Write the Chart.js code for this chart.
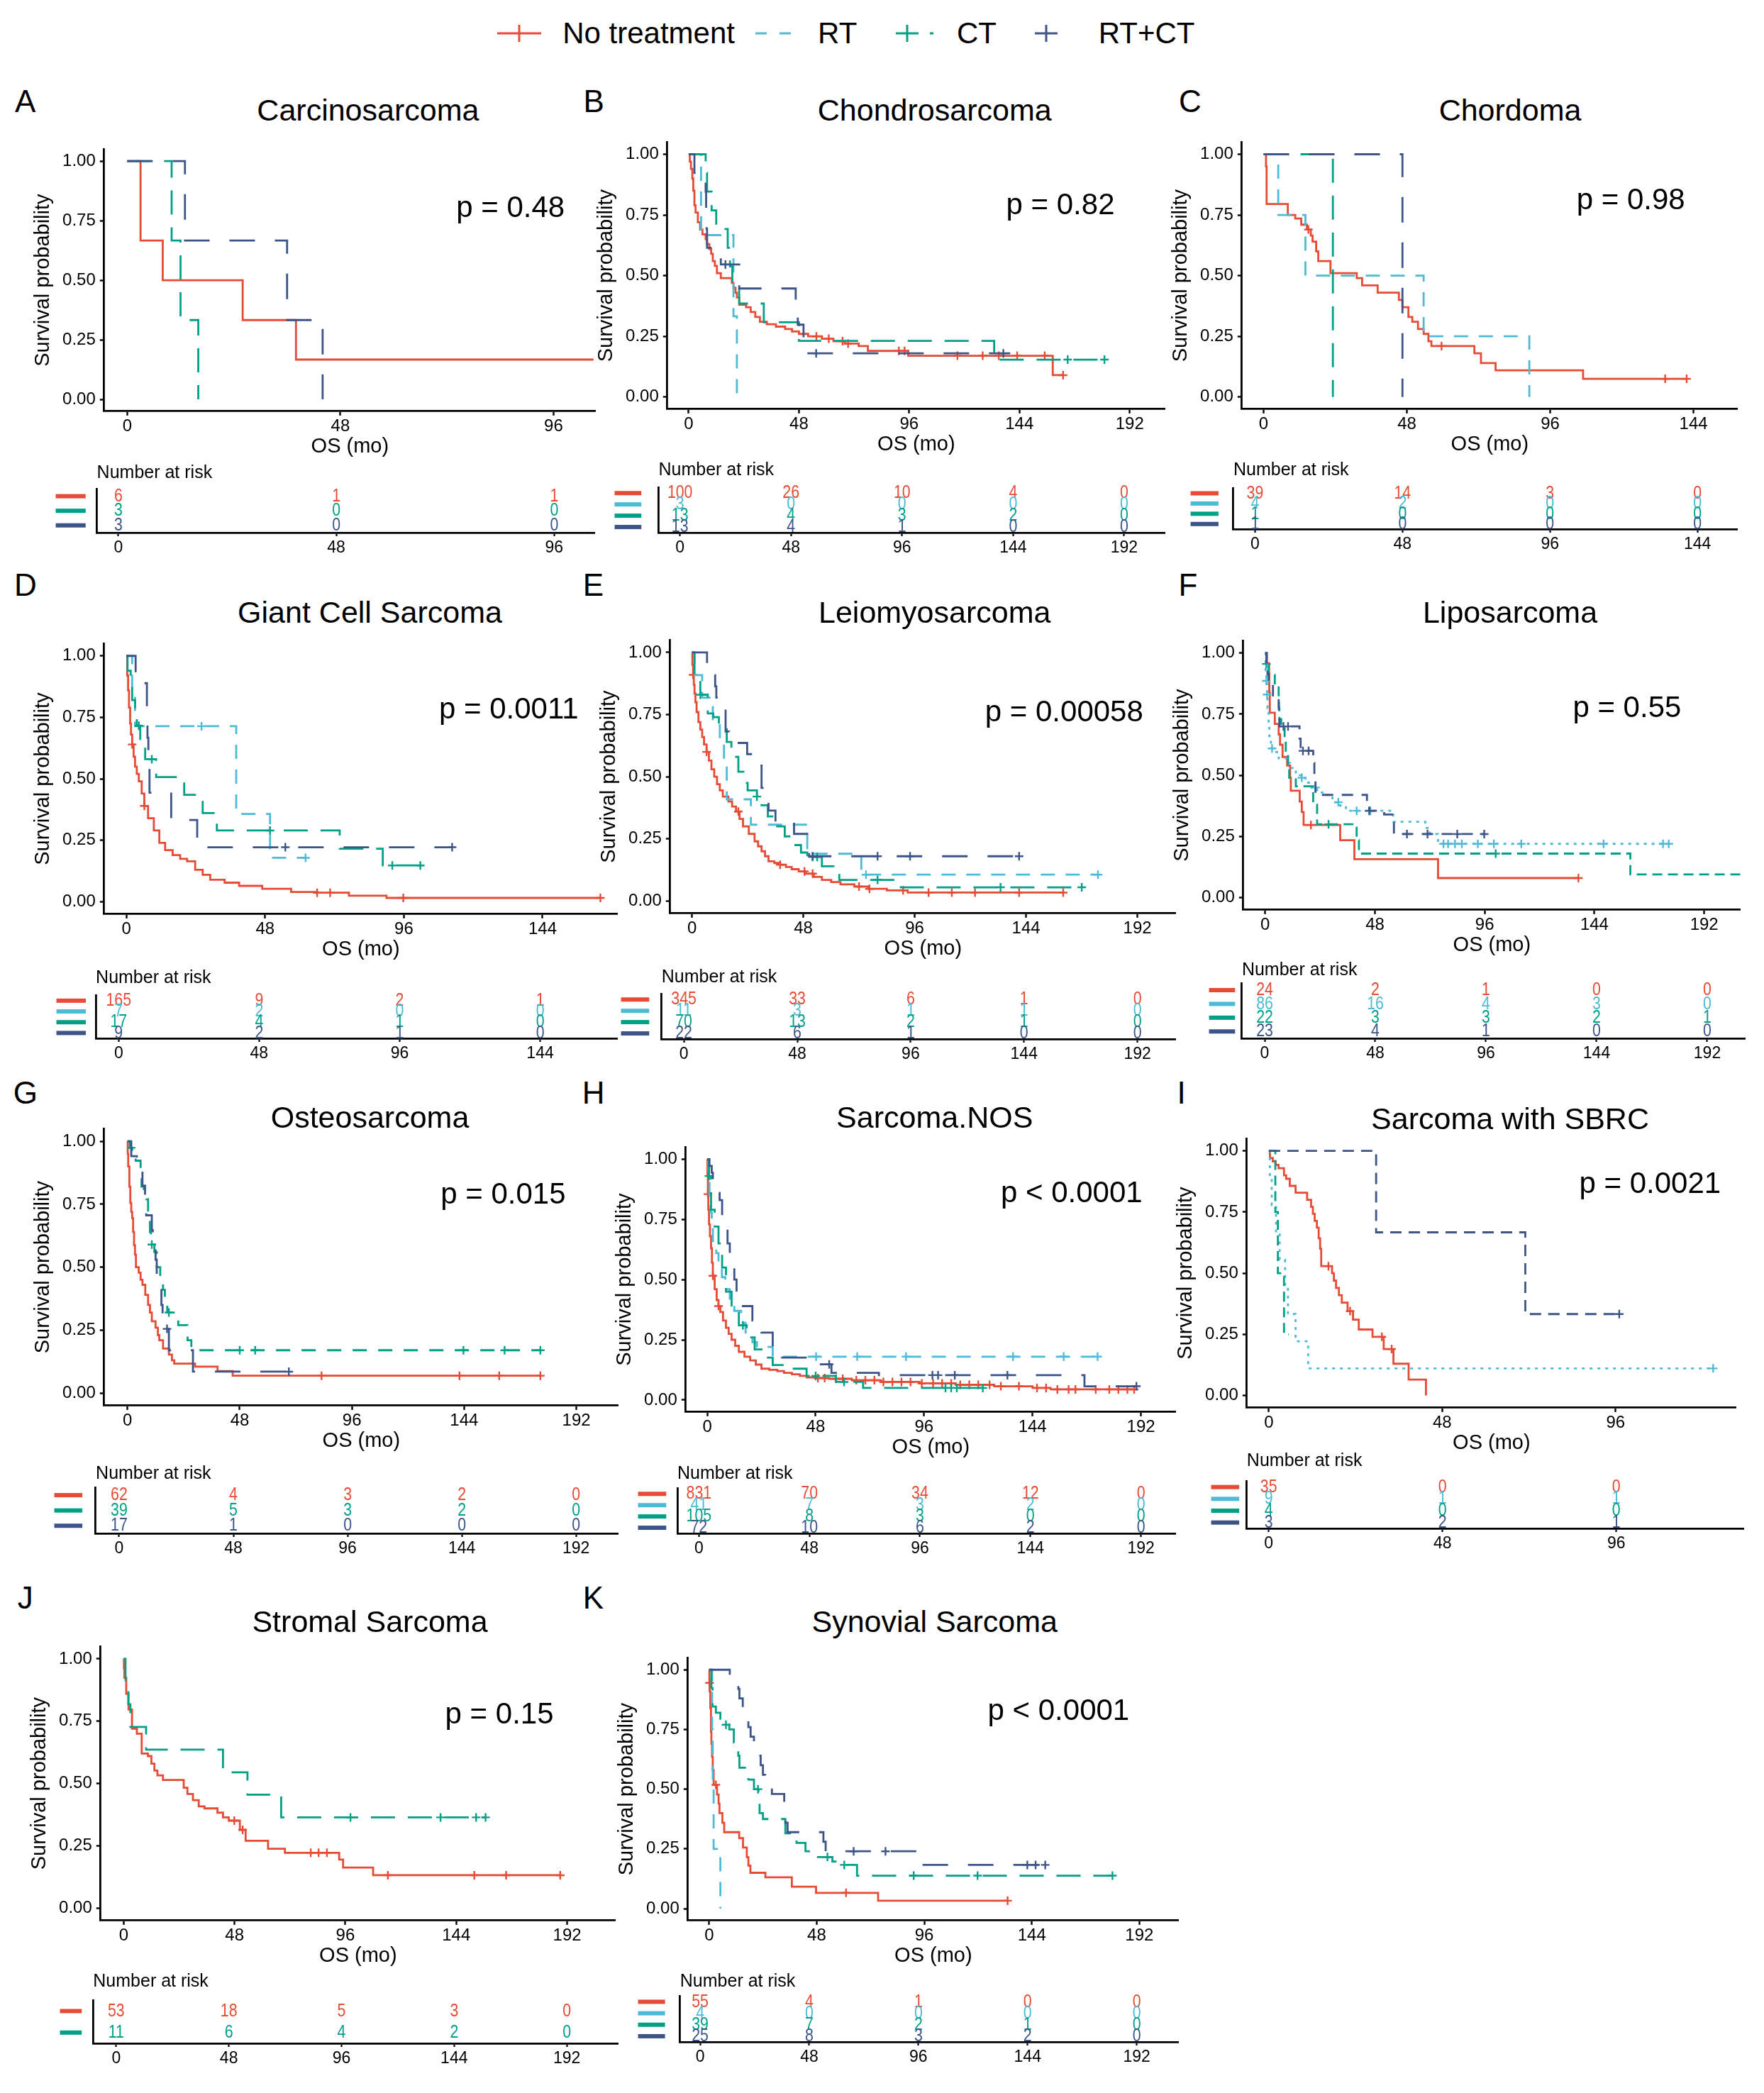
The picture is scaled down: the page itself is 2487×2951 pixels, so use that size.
<!DOCTYPE html>
<html>
<head>
<meta charset="utf-8">
<title>Overall survival by treatment and histology</title>
<script src="https://cdn.jsdelivr.net/npm/chart.js@4.4.1/dist/chart.umd.min.js"></script>
<style>
  html, body { margin: 0; padding: 0; background: #fff; }
  #page { position: relative; width: 2487px; height: 2951px; overflow: hidden; background: #fff;
          font-family: "Liberation Sans", Arial, sans-serif; color: #000; }
  #page canvas { position: absolute; }
  .txt { position: absolute; white-space: nowrap; line-height: 1; }
</style>
</head>
<body>
<div id="page"></div>
<script>
// ---- shared tick labels ----
const yTicks = [0, 0.25, 0.5, 0.75, 1];
const ticks96 = [0, 48, 96];
const ticks144 = [0, 48, 96, 144];
const ticks192 = [0, 48, 96, 144, 192];

// ---- curves: [months, survival]; censor marks: months ----
// A Carcinosarcoma
const A_none = [[0,1],[3,0.667],[8,0.5],[26,0.333],[38,0.167],[105,0.167]];
const A_ct = [[0,1],[10,0.667],[12,0.333],[16,0]];
const A_rtct = [[0,1],[13,0.667],[36,0.333],[44,0]];
const A_risk_none = [6,1,1], A_risk_ct = [3,0,0], A_risk_rtct = [3,0,0];

// B Chondrosarcoma
const B_none = [[0,1],[0.5,0.97],[1,0.94],[1.6,0.9],[2,0.85],[2.5,0.79],[3,0.76],[4,0.72],[5,0.69],[6,0.67],[7.4,0.65],[8,0.63],[9,0.61],[9.8,0.59],[10.5,0.56],[11.4,0.54],[12.3,0.51],[14,0.49],[18.8,0.47],[19.5,0.45],[20.4,0.43],[21,0.41],[22,0.38],[25,0.37],[27,0.35],[29,0.33],[31,0.31],[34,0.3],[38,0.29],[42,0.28],[45,0.27],[48,0.26],[52,0.25],[58,0.24],[63,0.23],[68,0.22],[74,0.21],[78,0.19],[95.6,0.17],[158.5,0.09],[163,0.09]];
const B_none_cens = [55.6,61,67,69.4,91.5,94,117,128,135,143,155,163];
const B_rt = [[0,1],[5.4,0.667],[19.5,0.333],[21,0]];
const B_ct = [[0,1],[7.4,0.923],[8,0.846],[10,0.769],[12,0.692],[17,0.615],[18,0.538],[19,0.462],[22,0.385],[32.7,0.308],[48,0.231],[133,0.154],[181,0.154]];
const B_ct_cens = [165,181];
const B_rtct = [[0,1],[2.5,0.923],[7.4,0.846],[7.6,0.769],[7.8,0.692],[8,0.615],[10,0.577],[14,0.546],[22,0.447],[46.6,0.373],[47.5,0.298],[50,0.18],[140,0.18]];
const B_rtct_cens = [16,55.5,137];
const B_risk_none = [100,26,10,4,0], B_risk_rt = [3,0,0,0,0], B_risk_ct = [13,4,3,2,0], B_risk_rtct = [13,4,1,0,0];

// C Chordoma
const C_none = [[0,1],[0.8,0.95],[1,0.795],[8.1,0.75],[10.6,0.735],[12.6,0.71],[14.5,0.69],[15.8,0.665],[16.4,0.64],[17.6,0.6],[18.3,0.56],[22.4,0.51],[31.2,0.49],[33,0.46],[38.2,0.43],[45.3,0.4],[46.5,0.37],[48.5,0.33],[49.8,0.31],[51.7,0.28],[53.6,0.26],[55.2,0.23],[56.2,0.21],[70.6,0.18],[72.8,0.14],[77.7,0.11],[107,0.075],[141.7,0.075]];
const C_none_cens = [15,59.6,134.5,141.7];
const C_rt = [[0,1],[4.9,0.75],[14,0.5],[53.6,0.25],[89,0]];
const C_ct = [[0,1],[23.2,0]];
const C_rtct = [[0,1],[46.5,0]];
const C_risk_none = [39,14,3,0], C_risk_rt = [4,2,0,0], C_risk_ct = [1,0,0,0], C_risk_rtct = [1,0,0,0];

// D Giant Cell Sarcoma
const D_none = [[0,1],[0.3,0.92],[0.6,0.86],[0.9,0.79],[1.3,0.725],[1.6,0.68],[2,0.64],[2.5,0.59],[3,0.55],[3.6,0.52],[4.3,0.49],[5.3,0.44],[6.2,0.39],[7.5,0.34],[9.5,0.29],[11.4,0.24],[13.4,0.21],[16,0.19],[18.6,0.175],[21,0.165],[23.8,0.13],[26.4,0.11],[29,0.09],[34,0.078],[39,0.065],[47,0.053],[57,0.04],[66,0.037],[77,0.025],[90,0.016],[164,0.016]];
const D_none_cens = [2,6.2,66,70.5,95.8,164];
const D_rt = [[0,1],[2,0.857],[3,0.714],[38,0.357],[49.7,0.179],[62,0.179]];
const D_rt_cens = [26,62];
const D_ct = [[0,1],[0.4,0.94],[1.5,0.88],[2,0.82],[3,0.76],[3.6,0.716],[4.8,0.65],[6.5,0.58],[10.3,0.507],[20,0.435],[26.4,0.361],[31.3,0.29],[73.8,0.216],[88.7,0.148],[101.7,0.148]];
const D_ct_cens = [4.3,8.8,49.7,92,101.7];
const D_rtct = [[0,1],[3.2,0.889],[7.1,0.778],[7.3,0.667],[7.6,0.556],[8,0.444],[15.5,0.333],[24.5,0.222],[112.7,0.222]];
const D_rtct_cens = [55,112.7];
const D_risk_none = [165,9,2,1], D_risk_rt = [7,2,0,0], D_risk_ct = [17,4,1,0], D_risk_rtct = [9,2,1,0];

// E Leiomyosarcoma
const E_none = [[0,1],[0.2,0.95],[0.5,0.91],[0.8,0.87],[1.1,0.835],[1.5,0.8],[2,0.76],[2.8,0.72],[3.6,0.69],[4.4,0.66],[5.2,0.63],[6.3,0.6],[7.3,0.565],[8.4,0.53],[9.6,0.5],[10.8,0.47],[12,0.445],[13.3,0.42],[15.7,0.4],[17.3,0.38],[19,0.36],[20.5,0.33],[22,0.3],[24.5,0.27],[27,0.24],[28.5,0.22],[30,0.2],[31.5,0.18],[33,0.16],[35.5,0.153],[38,0.146],[40.5,0.137],[43,0.128],[46,0.119],[49,0.11],[52.5,0.097],[56,0.085],[60,0.076],[64,0.067],[70,0.058],[76,0.049],[84,0.043],[93,0.034],[160,0.034]];
const E_none_cens = [0.5,6.3,20,38,48.5,52,72,76.5,91,102,112,122,141,160];
const E_rt = [[0,1],[1.1,0.909],[4.4,0.818],[9,0.727],[12,0.636],[13.8,0.545],[15,0.409],[25.4,0.307],[49.7,0.19],[73,0.106],[175,0.106]];
const E_rt_cens = [75,175];
const E_ct = [[0,1],[1.1,0.91],[3.6,0.83],[6.8,0.755],[9.2,0.74],[11.6,0.7],[15,0.64],[17,0.58],[20,0.52],[22.2,0.475],[24,0.445],[28,0.42],[30,0.385],[32.7,0.34],[36,0.3],[40,0.26],[43,0.225],[47,0.195],[49.7,0.177],[56,0.14],[61,0.116],[63.5,0.085],[90,0.055],[168,0.055]];
const E_ct_cens = [3.6,28,52,54,80,133,168];
const E_rtct = [[0,1],[6.5,0.955],[7,0.909],[10,0.864],[10.5,0.818],[14,0.773],[14.5,0.682],[16,0.636],[23.8,0.591],[27,0.545],[30,0.455],[31,0.409],[33,0.364],[36,0.32],[44,0.27],[49.7,0.225],[50.5,0.18],[141,0.18]];
const E_rtct_cens = [52,80,94,141];
const E_risk_none = [345,33,6,1,0], E_risk_rt = [11,3,1,1,0], E_risk_ct = [70,13,2,1,0], E_risk_rtct = [22,6,1,0,0];

// F Liposarcoma
const F_none = [[0,1],[0.8,0.958],[1.7,0.917],[1.8,0.84],[2,0.756],[4.2,0.71],[5.9,0.667],[6.5,0.625],[7.6,0.575],[9.6,0.54],[10.9,0.49],[11.2,0.437],[15.1,0.393],[16,0.35],[16.8,0.297],[32.8,0.235],[39,0.157],[75.6,0.08],[137,0.08]];
const F_none_cens = [20,137];
const F_rt = [[0,1],[0.2,0.93],[0.5,0.886],[0.8,0.83],[1,0.775],[1.5,0.71],[1.8,0.66],[2.5,0.61],[4.2,0.595],[5.9,0.57],[9.2,0.55],[10.9,0.53],[13.4,0.5],[15.9,0.49],[17.6,0.47],[20.2,0.45],[22.7,0.43],[26,0.42],[29.4,0.39],[32.8,0.376],[35.3,0.355],[56,0.31],[70,0.285],[72,0.26],[75.6,0.22],[176.5,0.22]];
const F_rt_cens = [0.5,0.8,3,16,22,32,40,46,78,80,83,86,93,100,112,148,174,176.5];
const F_ct = [[0,1],[0.5,0.955],[1.5,0.91],[4.2,0.87],[5.9,0.82],[6,0.77],[6.2,0.73],[7,0.7],[8.5,0.65],[9,0.6],[10,0.545],[10.5,0.49],[13.4,0.455],[21,0.38],[22.7,0.3],[40,0.235],[41,0.18],[159.7,0.095],[208.4,0.095]];
const F_ct_cens = [0.5,27.7,100.8];
const F_rtct = [[0,1],[0.5,0.957],[1,0.913],[1.5,0.87],[3.4,0.826],[5.9,0.78],[6,0.74],[6.2,0.7],[15,0.65],[15.5,0.6],[21,0.55],[21.5,0.49],[22,0.42],[44.5,0.38],[45.5,0.355],[52,0.34],[56.3,0.26],[95.8,0.26]];
const F_rtct_cens = [8,10,16.5,19,45.5,62,71,84,95.8];
const F_risk_none = [24,2,1,0,0], F_risk_rt = [86,16,4,3,0], F_risk_ct = [22,3,3,2,1], F_risk_rtct = [23,4,1,0,0];

// G Osteosarcoma
const G_none = [[0,1],[0.1,0.95],[0.3,0.9],[0.8,0.82],[1.2,0.755],[1.6,0.72],[2,0.695],[2.4,0.64],[2.8,0.587],[3.2,0.55],[3.6,0.5],[4.8,0.478],[5.6,0.45],[6.4,0.43],[7.6,0.39],[8.8,0.35],[9.6,0.32],[10.4,0.285],[12,0.26],[13,0.23],[13.6,0.21],[15.2,0.177],[17.7,0.153],[19,0.13],[20,0.117],[28.9,0.105],[38.5,0.087],[45,0.069],[176.6,0.069]];
const G_none_cens = [83,142,159,176.6];
const G_ct = [[0,1],[1,0.974],[2,0.949],[3.5,0.923],[5.6,0.85],[6,0.82],[7,0.795],[8,0.77],[8.8,0.69],[9.6,0.64],[10,0.59],[11.5,0.56],[12.5,0.5],[14,0.45],[15.2,0.41],[16,0.37],[17,0.32],[21.7,0.27],[25.7,0.21],[27.3,0.17],[176.6,0.17]];
const G_ct_cens = [1.6,10.4,17.7,48,54.6,143.7,161.3,176.6];
const G_rtct = [[0,1],[1.6,0.941],[4,0.882],[6.4,0.824],[7.5,0.765],[8,0.706],[10.4,0.647],[10.8,0.588],[12,0.53],[12.5,0.47],[13.6,0.41],[14.5,0.35],[15,0.31],[16,0.255],[17.7,0.17],[28,0.085],[69,0.085]];
const G_rtct_cens = [16.9,69];
const G_risk_none = [62,4,3,2,0], G_risk_ct = [39,5,3,2,0], G_risk_rtct = [17,1,0,0,0];

// H Sarcoma.NOS
const H_none = [[0,1],[0.1,0.93],[0.3,0.855],[0.5,0.79],[0.8,0.73],[1.2,0.68],[1.7,0.63],[2.1,0.57],[2.5,0.516],[3.3,0.46],[4.2,0.415],[5,0.39],[5.8,0.365],[7,0.33],[8.3,0.3],[9.5,0.275],[10.8,0.25],[12.4,0.225],[14,0.2],[16.5,0.18],[19,0.164],[21.5,0.147],[24,0.13],[27.5,0.125],[31,0.12],[34,0.113],[37.5,0.107],[41,0.1],[44,0.094],[49,0.091],[54,0.088],[64,0.082],[77,0.075],[94,0.069],[110,0.063],[127,0.057],[144,0.05],[152,0.044],[189,0.044]];
const H_none_cens = [0.3,2.5,5,49,52,57,60,66,70,74,78,82,86,90,95,100,104,108,112,116,120,125,130,138,146,150,155,160,163,172,178,182,186,189];
const H_rt = [[0,1],[0.5,0.93],[1,0.85],[1.5,0.78],[2,0.71],[2.5,0.66],[4,0.61],[5,0.56],[6.5,0.51],[8,0.46],[10,0.41],[12,0.37],[15,0.32],[17,0.27],[20,0.24],[22,0.22],[29,0.18],[172.8,0.18]];
const H_rt_cens = [48.2,66.4,88,135.4,157.8,172.8];
const H_ct = [[0,1],[0.8,0.93],[1.7,0.79],[3.3,0.72],[5,0.65],[6.6,0.55],[8.3,0.45],[10.8,0.38],[14,0.31],[17.5,0.26],[21,0.21],[24,0.176],[29,0.145],[36,0.13],[44,0.1],[57,0.075],[69,0.05],[122,0.05]];
const H_ct_cens = [0.8,15.8,48,60.6,105.5,108,110.5,122];
const H_rtct = [[0,1],[1,0.972],[2,0.944],[2.5,0.917],[3.3,0.889],[4.5,0.86],[5.5,0.83],[6.6,0.755],[8,0.71],[9,0.65],[10,0.58],[12,0.5],[13,0.45],[14,0.39],[20,0.33],[24,0.28],[29,0.21],[32,0.176],[45.7,0.148],[55,0.113],[76,0.103],[167,0.057],[190,0.057]];
const H_rtct_cens = [54,99.7,102.2,109.6,132.9,190];
const H_risk_none = [831,70,34,12,0], H_risk_rt = [41,7,3,2,0], H_risk_ct = [105,8,3,0,0], H_risk_rtct = [72,10,6,2,0];

// I Sarcoma with SBRC
const I_none = [[0,1],[0.3,0.971],[1.1,0.957],[1.9,0.943],[2.7,0.929],[4.2,0.9],[4.8,0.886],[5.8,0.857],[7.4,0.829],[10.6,0.8],[11.7,0.771],[12.2,0.743],[12.7,0.714],[13.3,0.686],[13.8,0.643],[14.2,0.6],[14.5,0.529],[17.5,0.5],[18,0.47],[18.6,0.44],[19.4,0.41],[20.2,0.38],[21.8,0.345],[23.3,0.31],[24.9,0.27],[28.7,0.24],[31.8,0.19],[34.5,0.13],[38.7,0.065],[43.5,0]];
const I_none_cens = [16.5,22.5,31.3,34];
const I_rt = [[0,1],[0.3,0.889],[0.8,0.778],[2,0.667],[3,0.556],[4.5,0.444],[5.3,0.333],[7.4,0.222],[10.9,0.111],[123,0.111]];
const I_rt_cens = [123];
const I_ct = [[0,1],[1.8,0.75],[2.5,0.5],[4.2,0.25],[5.5,0.25]];
const I_rtct = [[0,1],[29.7,0.667],[71,0.333],[97,0.333]];
const I_rtct_cens = [97];
const I_risk_none = [35,0,0], I_risk_rt = [9,1,1], I_risk_ct = [4,0,0], I_risk_rtct = [3,2,1];

// J Stromal Sarcoma
const J_none = [[0,1],[0.1,0.962],[0.3,0.925],[1.1,0.86],[2.1,0.797],[3.6,0.72],[5.7,0.7],[7.8,0.62],[10.5,0.61],[12,0.58],[13.3,0.552],[14.6,0.533],[17,0.514],[26,0.483],[27.6,0.458],[30,0.433],[32.5,0.408],[35,0.4],[40.6,0.383],[43,0.364],[45.5,0.351],[50.3,0.314],[52.8,0.27],[62.5,0.238],[69.8,0.222],[93.3,0.195],[95,0.163],[108,0.132],[189,0.132]];
const J_none_cens = [47.9,51.5,81,84.4,88,114.4,151.8,165.6,189];
const J_ct = [[0,1],[0.8,0.909],[2,0.818],[2.9,0.727],[9.7,0.636],[43,0.545],[53.6,0.455],[68.2,0.364],[156.7,0.364]];
const J_ct_cens = [98.2,137.2,152.6,156.7];
const J_risk_none = [53,18,5,3,0], J_risk_ct = [11,6,4,2,0];

// K Synovial Sarcoma
const K_none = [[0,1],[0.1,0.945],[0.2,0.91],[0.5,0.84],[0.8,0.74],[1,0.69],[1.3,0.635],[1.6,0.58],[2,0.518],[3.5,0.478],[4.2,0.44],[4.6,0.4],[5.9,0.36],[6.7,0.32],[13.4,0.295],[15.1,0.256],[16.8,0.216],[17.5,0.18],[18.4,0.15],[25.1,0.131],[36.9,0.092],[47.7,0.066],[75.4,0.033],[133.2,0.033]];
const K_none_cens = [0.15,3,61.1,133.2];
const K_rt = [[0,1],[1.3,0.75],[1.6,0.5],[2,0.25],[5,0]];
const K_ct = [[0,1],[1,0.923],[1.5,0.846],[3,0.82],[5,0.795],[7.5,0.77],[9,0.75],[11,0.695],[13,0.64],[13.5,0.59],[17.5,0.54],[20,0.5],[22,0.465],[22.5,0.4],[24,0.375],[34,0.315],[39,0.275],[43,0.24],[44.5,0.216],[55,0.197],[58,0.183],[66,0.138],[180,0.138]];
const K_ct_cens = [7.5,21.8,52.8,60.3,91.3,119.8,180];
const K_rtct = [[0,1],[9.2,0.96],[13,0.92],[13.5,0.88],[15,0.84],[16.8,0.8],[17.5,0.76],[18.5,0.72],[20,0.68],[22,0.64],[23,0.6],[24,0.56],[25,0.52],[28,0.48],[33.5,0.44],[34,0.36],[35,0.32],[51,0.28],[52,0.24],[92,0.183],[150,0.183]];
const K_rtct_cens = [64.5,78.7,142,145.7,150];
const K_risk_none = [55,4,1,0,0], K_risk_rt = [4,0,0,0,0], K_risk_ct = [39,7,2,1,0], K_risk_rtct = [25,8,3,2,0];

// ---- styles ----
const S = 2487 / 1320;   // layout below is measured on a 1320px wide copy
const FONT = '"Liberation Sans", Arial, sans-serif';
const PAL = { none: '#E64B35', rt: '#4DBBD5', ct: '#00A087', rtct: '#3C5488' };
const DASH = { none: [], rt: [20, 15], ct: [34, 18], rtct: [36, 28] };

// panel layout (x/y in 1320-wide units)
const panels = [
  { id: 'A', title: 'Carcinosarcoma', pText: 'p = 0.48', letterAt: [19, 76], titleAt: [275.4, 82.5], pAt: [382, 155],
    xTicks: ticks96, dash: {},
    km: { axL: 77.7, axR: 445.6, xmin: -5.2, xmax: 105.5, y1: 117.8, y0: 298.5 },
    curves: [['none', A_none, []], ['ct', A_ct, []], ['rtct', A_rtct, []]],
    risk: { axL: 72.5, axR: 445, xmin: -4.7, xmax: 105, first: 371.4, last: 393.3, bars: [41.6, 64], narY: 353,
            rows: [['none', A_risk_none], ['ct', A_risk_ct], ['rtct', A_risk_rtct]] } },
  { id: 'B', title: 'Chondrosarcoma', pText: 'p = 0.82', letterAt: [444.4, 76], titleAt: [699.4, 82.5], pAt: [793.5, 152.8],
    xTicks: ticks192, dash: {},
    km: { axL: 499.3, axR: 872.2, xmin: -9.3, xmax: 207.5, y1: 112.5, y0: 296.6 },
    curves: [['none', B_none, B_none_cens], ['rt', B_rt, []], ['ct', B_ct, B_ct_cens], ['rtct', B_rtct, B_rtct_cens]],
    risk: { axL: 492.8, axR: 872, xmin: -9.3, xmax: 209.8, first: 369.1, last: 394.4, bars: [460, 480], narY: 350.7,
            rows: [['none', B_risk_none], ['rt', B_risk_rt], ['ct', B_risk_ct], ['rtct', B_risk_rtct]] } },
  { id: 'C', title: 'Chordoma', pText: 'p = 0.98', letterAt: [890.5, 76], titleAt: [1130, 82.5], pAt: [1220.3, 149.3],
    xTicks: ticks144, dash: {},
    km: { axL: 929.3, axR: 1300.6, xmin: -7.3, xmax: 158.8, y1: 112.5, y0: 296.6 },
    curves: [['none', C_none, C_none_cens], ['rt', C_rt, []], ['ct', C_ct, []], ['rtct', C_rtct, []]],
    risk: { axL: 923, axR: 1300.6, xmin: -7.1, xmax: 157.1, first: 369.1, last: 392.1, bars: [891.1, 912], narY: 350.7,
            rows: [['none', C_risk_none], ['rt', C_risk_rt], ['ct', C_risk_ct], ['rtct', C_risk_rtct]] } },
  { id: 'D', title: 'Giant Cell Sarcoma', pText: 'p = 0.0011', letterAt: [19, 438], titleAt: [276.8, 457.8], pAt: [380.7, 530.3],
    xTicks: ticks144, dash: {},
    km: { axL: 78.1, axR: 462.2, xmin: -7.7, xmax: 170, y1: 488.2, y0: 674.9 },
    curves: [['none', D_none, D_none_cens], ['rt', D_rt, D_rt_cens], ['ct', D_ct, D_ct_cens], ['rtct', D_rtct, D_rtct_cens]],
    risk: { axL: 71.7, axR: 462, xmin: -7.7, xmax: 170.5, first: 749, last: 773.2, bars: [42, 64], narY: 731,
            rows: [['none', D_risk_none], ['rt', D_risk_rt], ['ct', D_risk_ct], ['rtct', D_risk_rtct]] } },
  { id: 'E', title: 'Leiomyosarcoma', pText: 'p = 0.00058', letterAt: [444, 438], titleAt: [699.4, 457.8], pAt: [796.3, 532.6],
    xTicks: ticks192, dash: {},
    km: { axL: 501.3, axR: 879.9, xmin: -9.4, xmax: 208.6, y1: 485.4, y0: 674.2 },
    curves: [['none', E_none, E_none_cens], ['rt', E_rt, E_rt_cens], ['ct', E_ct, E_ct_cens], ['rtct', E_rtct, E_rtct_cens]],
    risk: { axL: 495.1, axR: 880, xmin: -9.4, xmax: 208.3, first: 747.8, last: 773.1, bars: [464.7, 485.8], narY: 730.5,
            rows: [['none', E_risk_none], ['rt', E_risk_rt], ['ct', E_risk_ct], ['rtct', E_risk_rtct]] } },
  { id: 'F', title: 'Liposarcoma', pText: 'p = 0.55', letterAt: [889, 438], titleAt: [1130, 457.8], pAt: [1217.5, 529.2],
    xTicks: ticks192, dash: { rt: [4, 7], ct: [14, 8], rtct: [16, 12] },
    km: { axL: 930.1, axR: 1302, xmin: -9.6, xmax: 207.9, y1: 486.1, y0: 671.9 },
    curves: [['none', F_none, F_none_cens], ['rt', F_rt, F_rt_cens], ['ct', F_ct, F_ct_cens], ['rtct', F_rtct, F_rtct_cens]],
    risk: { axL: 929.3, axR: 1306.4, xmin: -10, xmax: 208.6, first: 740.9, last: 772, bars: [904.9, 924.4], narY: 724.8,
            rows: [['none', F_risk_none], ['rt', F_risk_rt], ['ct', F_risk_ct], ['rtct', F_risk_rtct]] } },
  { id: 'G', title: 'Osteosarcoma', pText: 'p = 0.015', letterAt: [19, 818], titleAt: [276.8, 835.8], pAt: [376.5, 893.4],
    xTicks: ticks192, dash: { ct: [20, 16] },
    km: { axL: 78, axR: 462.8, xmin: -10, xmax: 210, y1: 851.2, y0: 1042.3 },
    curves: [['none', G_none, G_none_cens], ['ct', G_ct, G_ct_cens], ['rtct', G_rtct, G_rtct_cens]],
    risk: { axL: 71.7, axR: 463, xmin: -9.9, xmax: 209.8, first: 1119, last: 1141.9, bars: [40.8, 61.8], narY: 1101.7,
            rows: [['none', G_risk_none], ['ct', G_risk_ct], ['rtct', G_risk_rtct]] } },
  { id: 'H', title: 'Sarcoma.NOS', pText: 'p < 0.0001', letterAt: [444, 818], titleAt: [699.4, 835.8], pAt: [801.9, 892.2],
    xTicks: ticks192, dash: {},
    km: { axL: 513.3, axR: 880.1, xmin: -9.5, xmax: 207.5, y1: 864.6, y0: 1047.6 },
    curves: [['none', H_none, H_none_cens], ['rt', H_rt, H_rt_cens], ['ct', H_ct, H_ct_cens], ['rtct', H_rtct, H_rtct_cens]],
    risk: { axL: 506.9, axR: 880, xmin: -9.3, xmax: 207.2, first: 1117.8, last: 1143.1, bars: [477.4, 498.5], narY: 1101.7,
            rows: [['none', H_risk_none], ['rt', H_risk_rt], ['ct', H_risk_ct], ['rtct', H_risk_rtct]] } },
  { id: 'I', title: 'Sarcoma with SBRC', pText: 'p = 0.0021', letterAt: [884, 818], titleAt: [1130, 837], pAt: [1234.7, 885.3],
    xTicks: ticks96, dash: { rt: [4, 7], ct: [14, 8], rtct: [16, 10] },
    km: { axL: 933, axR: 1299.2, xmin: -6.1, xmax: 129.4, y1: 858.4, y0: 1044.1 },
    curves: [['none', I_none, I_none_cens], ['rt', I_rt, I_rt_cens], ['ct', I_ct, []], ['rtct', I_rtct, I_rtct_cens]],
    risk: { axL: 933, axR: 1305, xmin: -6.05, xmax: 131.3, first: 1112.7, last: 1139.2, bars: [906.3, 927.3], narY: 1092.5,
            rows: [['none', I_risk_none], ['rt', I_risk_rt], ['ct', I_risk_ct], ['rtct', I_risk_rtct]] } },
  { id: 'J', title: 'Stromal Sarcoma', pText: 'p = 0.15', letterAt: [19, 1196], titleAt: [276.8, 1213.3], pAt: [373.7, 1282.1],
    xTicks: ticks192, dash: {},
    km: { axL: 75.4, axR: 461, xmin: -10, xmax: 213, y1: 1238.9, y0: 1428.0 },
    curves: [['none', J_none, J_none_cens], ['ct', J_ct, J_ct_cens]],
    risk: { axL: 69.7, axR: 463, xmin: -9.9, xmax: 214, first: 1505.1, last: 1521.2, bars: [45, 61.3], narY: 1481.8,
            rows: [['none', J_risk_none], ['ct', J_risk_ct]] } },
  { id: 'K', title: 'Synovial Sarcoma', pText: 'p < 0.0001', letterAt: [444, 1196], titleAt: [699.4, 1213.3], pAt: [792.1, 1279.7],
    xTicks: ticks192, dash: {},
    km: { axL: 514.9, axR: 882, xmin: -9.5, xmax: 209.6, y1: 1246.9, y0: 1428.0 },
    curves: [['none', K_none, K_none_cens], ['rt', K_rt, []], ['ct', K_ct, K_ct_cens], ['rtct', K_rtct, K_rtct_cens]],
    risk: { axL: 508.9, axR: 882, xmin: -8.8, xmax: 210.5, first: 1498, last: 1523.6, bars: [477.4, 497.6], narY: 1481.8,
            rows: [['none', K_risk_none], ['rt', K_risk_rt], ['ct', K_risk_ct], ['rtct', K_risk_rtct]] } }
];

const page = document.getElementById('page');

function place(text, x, y, size, left) {
  const d = document.createElement('div');
  d.className = 'txt';
  d.textContent = text;
  d.style.left = (x * S) + 'px';
  d.style.top = (y * S) + 'px';
  d.style.fontSize = size + 'px';
  d.style.transform = left ? 'translate(0,-50%)' : 'translate(-50%,-50%)';
  page.appendChild(d);
}

function makeCanvas(x, y, w, h) {
  const c = document.createElement('canvas');
  c.width = Math.round(w * S);
  c.height = Math.round(h * S);
  c.style.left = Math.round(x * S) + 'px';
  c.style.top = Math.round(y * S) + 'px';
  c.style.width = c.width + 'px';
  c.style.height = c.height + 'px';
  page.appendChild(c);
  return c;
}

// survival value of a step curve at time t (censor marks sit on the curve)
function stepAt(curve, t) {
  let s = curve[0][1];
  for (const [tt, v] of curve) { if (tt <= t) s = v; else break; }
  return s;
}

function axisStyle() {
  return {
    grid: { display: true, drawOnChartArea: false, tickLength: 6, tickWidth: 2.4, tickColor: '#000' },
    border: { display: true, color: '#000', width: 2.8 }
  };
}

function buildKM(p) {
  const k = p.km;
  const unit = k.y0 - k.y1;
  const axT = k.y1 - 0.05 * unit, axB = k.y0 + 0.05 * unit;
  const left = k.axL - 62, top = axT - 8;
  const cv = makeCanvas(left, top, k.axR + 8 - left, axB + 42 - top);

  const datasets = [];
  p.curves.forEach(([key, curve, cens], idx) => {
    const dash = p.dash[key] || DASH[key];
    datasets.push({
      data: curve.map(([x, y]) => ({ x, y })),
      showLine: true, stepped: true, fill: false,
      borderColor: PAL[key], borderWidth: 2.8, borderDash: dash,
      pointRadius: 0, order: 20 - 2 * idx
    });
    if (cens.length) {
      datasets.push({
        data: cens.map(t => ({ x: t, y: stepAt(curve, t) })),
        showLine: false, pointStyle: 'cross', pointRadius: 6,
        pointBorderWidth: 2.4, pointBorderColor: PAL[key], pointBackgroundColor: PAL[key],
        order: 19 - 2 * idx
      });
    }
  });

  const xs = axisStyle(), ys = axisStyle();
  new Chart(cv, {
    type: 'scatter',
    data: { datasets },
    options: {
      responsive: false, animation: false, devicePixelRatio: 1,
      layout: { padding: { top: 8 * S, right: 8 * S, left: 0, bottom: 0 } },
      plugins: { legend: { display: false }, tooltip: { enabled: false } },
      scales: {
        x: {
          type: 'linear', min: k.xmin, max: k.xmax,
          afterBuildTicks: s => { s.ticks = p.xTicks.map(v => ({ value: v })); },
          afterFit: s => { s.height = 42 * S; },
          grid: xs.grid, border: xs.border,
          ticks: { color: '#000', font: { family: FONT, size: 24 }, padding: 1, maxRotation: 0, autoSkip: false },
          title: { display: true, text: 'OS (mo)', color: '#000', font: { family: FONT, size: 29 }, padding: { top: 0, bottom: 12 } }
        },
        y: {
          type: 'linear', min: -0.05, max: 1.05,
          afterBuildTicks: s => { s.ticks = yTicks.map(v => ({ value: v })); },
          afterFit: s => { s.width = 62 * S; },
          grid: ys.grid, border: ys.border,
          ticks: { color: '#000', font: { family: FONT, size: 24 }, padding: 6, callback: v => Number(v).toFixed(2) },
          title: { display: true, text: 'Survival probability', color: '#000', font: { family: FONT, size: 29 }, padding: { top: 14, bottom: 0 } }
        }
      }
    }
  });
}

// numbers at risk + colour key, placed through the risk chart's own scales
const riskText = {
  id: 'riskText',
  afterDatasetsDraw(chart, args, opts) {
    const ctx = chart.ctx;
    const yS = chart.scales.y;
    ctx.save();
    ctx.font = '26px ' + FONT;
    ctx.textAlign = 'center';
    ctx.textBaseline = 'middle';
    chart.data.datasets.forEach((ds, i) => {
      const meta = chart.getDatasetMeta(i);
      ctx.fillStyle = ds.textColor;
      meta.data.forEach((el, j) => {
        ctx.save();
        ctx.translate(el.x, el.y);
        ctx.scale(0.82, 1);
        ctx.fillText(String(ds.counts[j]), 0, 0);
        ctx.restore();
      });
      const y = yS.getPixelForValue(i);
      ctx.fillRect(opts.barL, y - 3, opts.barR - opts.barL, 6);
    });
    ctx.restore();
  }
};

function buildRisk(p) {
  const r = p.risk;
  const n = r.rows.length;
  const g = (r.last - r.first) / (n - 1);
  const aTop = r.first - g / 2, aBot = r.last + g / 2;
  const left = r.bars[0] - 4, top = aTop - 6;
  const cv = makeCanvas(left, top, r.axR + 8 - left, aBot + 26 - top);

  const datasets = r.rows.map(([key, counts]) => ({
    data: p.xTicks.map(t => ({ x: t, y: key })),
    counts, textColor: PAL[key], pointRadius: 0, showLine: false
  }));
  const xs = axisStyle();
  new Chart(cv, {
    type: 'scatter',
    data: { datasets },
    plugins: [riskText],
    options: {
      responsive: false, animation: false, devicePixelRatio: 1,
      layout: { padding: { top: 6 * S, right: 8 * S, left: 0, bottom: 0 } },
      plugins: {
        legend: { display: false }, tooltip: { enabled: false },
        riskText: { barL: (r.bars[0] - left) * S, barR: (r.bars[1] - left) * S }
      },
      scales: {
        x: {
          type: 'linear', min: r.xmin, max: r.xmax,
          afterBuildTicks: s => { s.ticks = p.xTicks.map(v => ({ value: v })); },
          afterFit: s => { s.height = 26 * S; },
          grid: { display: true, drawOnChartArea: false, tickLength: 5, tickWidth: 2.2, tickColor: '#000' },
          border: xs.border,
          ticks: { color: '#000', font: { family: FONT, size: 23 }, padding: 3, maxRotation: 0, autoSkip: false }
        },
        y: {
          type: 'category', labels: r.rows.map(rw => rw[0]), offset: true,
          afterFit: s => { s.width = (r.axL - left) * S; },
          grid: { display: false },
          border: { display: true, color: '#000', width: 2.8 },
          ticks: { display: false }
        }
      }
    }
  });
}

panels.forEach(p => {
  buildKM(p);
  buildRisk(p);
  place(p.id, p.letterAt[0], p.letterAt[1], 44);
  place(p.title, p.titleAt[0], p.titleAt[1], 43);
  place(p.pText, p.pAt[0], p.pAt[1], 42);
  place('Number at risk', p.risk.axL, p.risk.narY, 25, true);
});

// ---- top legend ----
function legendGlyph(svg, x) {
  const d = document.createElement('div');
  d.style.position = 'absolute';
  d.style.left = (x * S) + 'px';
  d.style.top = (25 * S - 15) + 'px';
  d.innerHTML = svg;
  page.appendChild(d);
}
legendGlyph('<svg width="62" height="30"><line x1="0" y1="15" x2="62" y2="15" stroke="' + PAL.none + '" stroke-width="3"/><line x1="31" y1="3" x2="31" y2="27" stroke="' + PAL.none + '" stroke-width="3"/></svg>', 372);
legendGlyph('<svg width="66" height="30"><line x1="0" y1="15" x2="66" y2="15" stroke="' + PAL.rt + '" stroke-width="3" stroke-dasharray="16 18" stroke-dashoffset="-6"/></svg>', 562);
legendGlyph('<svg width="70" height="30"><line x1="4" y1="15" x2="36" y2="15" stroke="' + PAL.ct + '" stroke-width="3"/><line x1="20" y1="3" x2="20" y2="27" stroke="' + PAL.ct + '" stroke-width="3"/><line x1="52" y1="15" x2="57" y2="15" stroke="' + PAL.ct + '" stroke-width="3"/></svg>', 668);
legendGlyph('<svg width="44" height="30"><line x1="6" y1="15" x2="38" y2="15" stroke="' + PAL.rtct + '" stroke-width="3"/><line x1="22" y1="3" x2="22" y2="27" stroke="' + PAL.rtct + '" stroke-width="3"/></svg>', 771);
place('No treatment', 421, 25, 42, true);
place('RT', 612, 25, 42, true);
place('CT', 716, 25, 42, true);
place('RT+CT', 822, 25, 42, true);
</script>
</body>
</html>
